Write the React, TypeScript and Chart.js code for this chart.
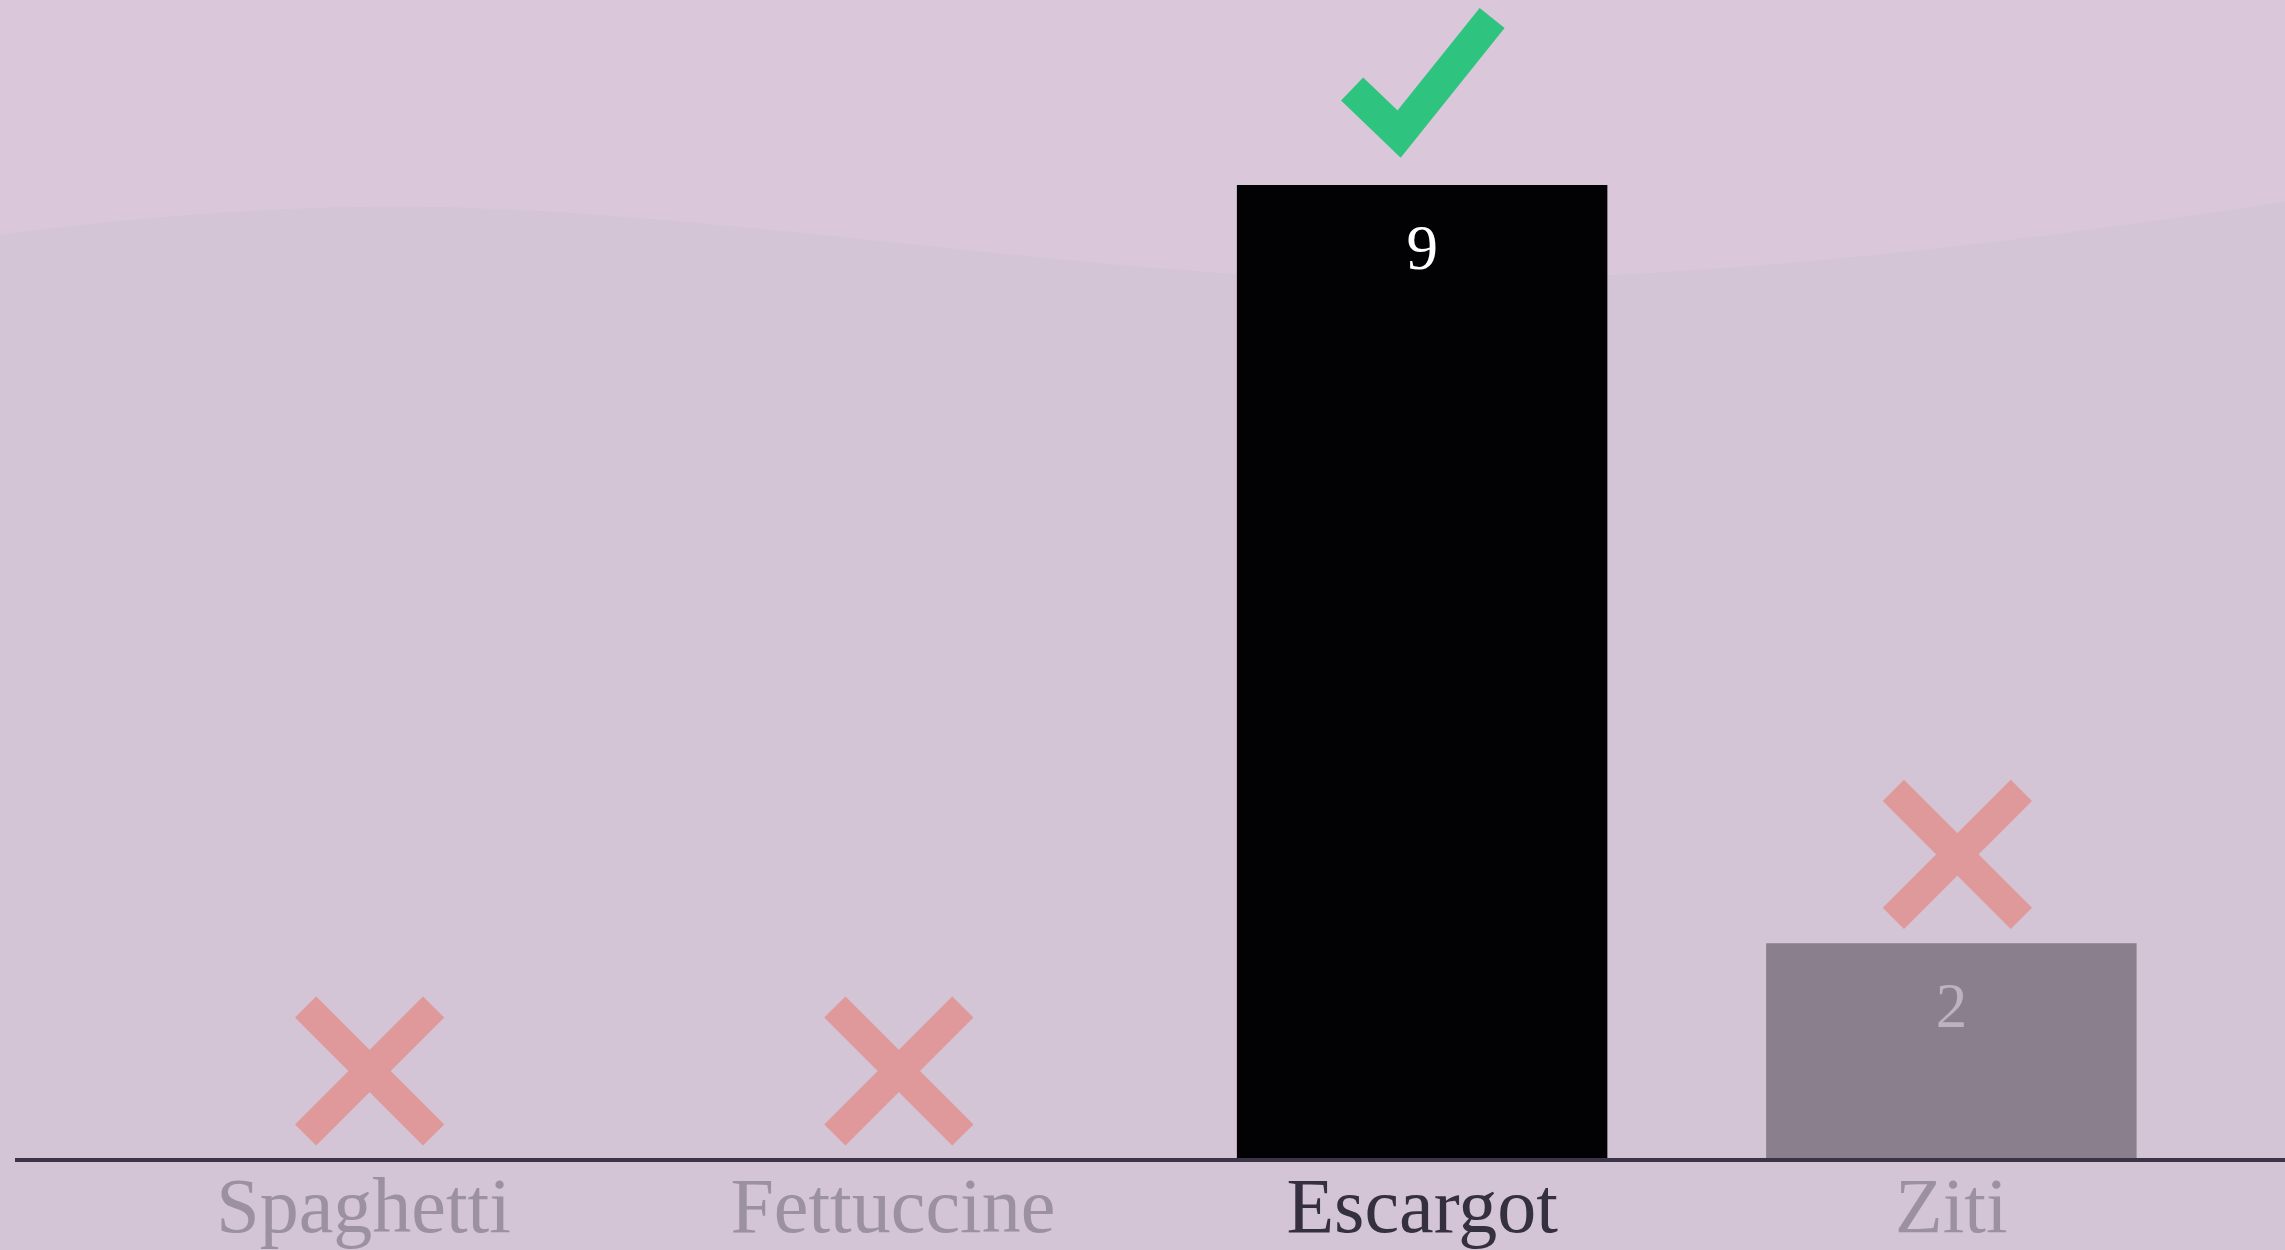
import React, { useEffect, useRef } from 'react';
import { Chart, registerables } from 'chart.js';

Chart.register(...registerables);

// ---- data ----
const categories = ['Spaghetti', 'Fettuccine', 'Escargot', 'Ziti'];
const votes = [0, 0, 9, 2];
const isCorrect = [false, false, true, false];
const yMin = 0;
const yMax = 9;

const W = 2285;
const H = 1250;
const FONT = '"Liberation Serif", "Times New Roman", serif';

const COLORS = {
  bgTop: '#dac7d9',
  bgBottom: '#d3c4d6',
  axis: '#3b3446',
  barCorrect: '#020104',
  barWrong: '#8a7f8d',
  labelCorrect: '#35303f',
  labelWrong: '#9b91a1',
  valueCorrect: '#ffffff',
  valueWrong: '#bdb3c0',
  check: '#2ec47f',
  cross: '#e0999a',
};

const backgroundPlugin = {
  id: 'bgWave',
  beforeDraw(chart: any) {
    const { ctx, width, height } = chart;
    ctx.save();
    ctx.fillStyle = COLORS.bgBottom;
    ctx.fillRect(0, 0, width, height);
    ctx.fillStyle = COLORS.bgTop;
    ctx.beginPath();
    ctx.moveTo(0, 0);
    ctx.lineTo(0, 235);
    ctx.bezierCurveTo(150, 215, 300, 205, 430, 207);
    ctx.bezierCurveTo(700, 212, 1000, 262, 1300, 278);
    ctx.bezierCurveTo(1650, 290, 2000, 245, width, 202);
    ctx.lineTo(width, 0);
    ctx.closePath();
    ctx.fill();
    ctx.restore();
  },
};

const markersPlugin = {
  id: 'markers',
  afterDatasetsDraw(chart: any) {
    const { ctx, width } = chart;
    const meta = chart.getDatasetMeta(0);
    const baseY = chart.scales.y.getPixelForValue(0);
    ctx.save();
    // axis line spanning the page
    ctx.strokeStyle = COLORS.axis;
    ctx.lineWidth = 4;
    ctx.beginPath();
    ctx.moveTo(15, baseY);
    ctx.lineTo(width, baseY);
    ctx.stroke();

    meta.data.forEach((el: any, i: number) => {
      const cx = el.x;
      const top = el.y;
      const v = votes[i];
      // value label inside bar
      if (v > 0) {
        ctx.font = `63px ${FONT}`;
        ctx.textAlign = 'center';
        ctx.textBaseline = 'alphabetic';
        ctx.fillStyle = isCorrect[i] ? COLORS.valueCorrect : COLORS.valueWrong;
        ctx.fillText(String(v), cx, top + 84);
      }
      if (isCorrect[i]) {
        ctx.strokeStyle = COLORS.check;
        ctx.lineWidth = 32;
        ctx.lineCap = 'butt';
        ctx.lineJoin = 'miter';
        ctx.beginPath();
        ctx.moveTo(cx - 70, top - 96);
        ctx.lineTo(cx - 23, top - 51);
        ctx.lineTo(cx + 70, top - 167);
        ctx.stroke();
      } else {
        const mx = cx + 6;
        const my = top - 89;
        const a = 64;
        ctx.strokeStyle = COLORS.cross;
        ctx.lineWidth = 30;
        ctx.lineCap = 'butt';
        ctx.beginPath();
        ctx.moveTo(mx - a, my - a);
        ctx.lineTo(mx + a, my + a);
        ctx.moveTo(mx + a, my - a);
        ctx.lineTo(mx - a, my + a);
        ctx.stroke();
      }
    });
    ctx.restore();
  },
};

export default function App() {
  const ref = useRef<HTMLCanvasElement | null>(null);

  useEffect(() => {
    document.body.style.margin = '0';
    const canvas = ref.current;
    if (!canvas) return;
    const chart = new Chart(canvas, {
      type: 'bar',
      data: {
        labels: categories,
        datasets: [
          {
            data: votes,
            backgroundColor: isCorrect.map((c) => (c ? COLORS.barCorrect : COLORS.barWrong)),
            borderWidth: 0,
            categoryPercentage: 1,
            barPercentage: 0.7,
          },
        ],
      },
      options: {
        animation: false,
        responsive: false,
        devicePixelRatio: 1,
        layout: { padding: { top: 185, left: 99, right: 69, bottom: -14 } },
        plugins: {
          legend: { display: false },
          tooltip: { enabled: false },
        },
        scales: {
          x: {
            grid: { display: false, drawTicks: false },
            border: { display: false },
            ticks: {
              padding: 13,
              font: { family: FONT, size: 78, lineHeight: 1 },
              color: (c: any) => (isCorrect[c.index] ? COLORS.labelCorrect : COLORS.labelWrong),
              maxRotation: 0,
              autoSkip: false,
            },
          },
          y: {
            display: false,
            min: yMin,
            max: yMax,
          },
        },
      },
      plugins: [backgroundPlugin, markersPlugin],
    });
    return () => chart.destroy();
  }, []);

  return <canvas ref={ref} width={W} height={H} style={{ display: 'block' }} />;
}
